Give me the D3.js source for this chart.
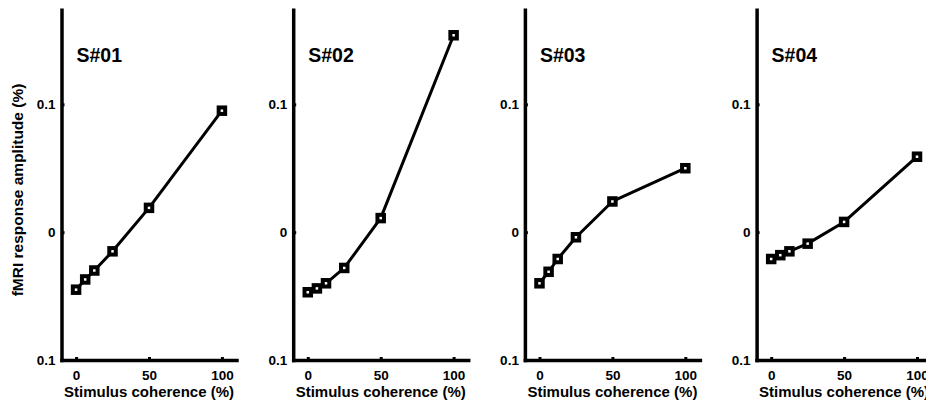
<!DOCTYPE html>
<html>
<head>
<meta charset="utf-8">
<script src="https://cdn.jsdelivr.net/npm/d3@7/dist/d3.min.js"></script>
<style>
  html, body { margin: 0; padding: 0; background: #fff; }
  svg { display: block; }
  text { font-family: "Liberation Sans", Arial, sans-serif; font-weight: bold; fill: #000; }
</style>
</head>
<body>
<svg id="chart" width="926" height="400"></svg>
<script>
const coherence = [0, 6.25, 12.5, 25, 50, 100];
const subjects = ["S#01", "S#02", "S#03", "S#04"];
const s01 = [-0.045, -0.037, -0.030, -0.015, 0.019, 0.095];
const s02 = [-0.047, -0.044, -0.040, -0.028, 0.011, 0.154];
const s03 = [-0.040, -0.031, -0.021, -0.004, 0.024, 0.050];
const s04 = [-0.021, -0.018, -0.015, -0.009, 0.008, 0.059];
const seriesValues = [s01, s02, s03, s04];
const xTicks = [0, 50, 100];
const yTicks = [-0.1, 0, 0.1];
const yTickLabels = ["0.1", "0", "0.1"];
const xLabel = "Stimulus coherence (%)";
const yLabel = "fMRI response amplitude (%)";

const svg = d3.select("#chart");
const panelW = 175, panelStep = 231.7, firstLeft = 61.5;
const yScale = d3.scaleLinear().domain([-0.1, 0.174]).range([360, 9.7]);

subjects.forEach((name, i) => {
  const left = firstLeft + i * panelStep;
  const x = d3.scaleLinear().domain([-10, 110]).range([left, left + panelW]);
  const g = svg.append("g");

  // y axis
  const yAxis = d3.axisLeft(yScale)
    .tickValues(yTicks)
    .tickSizeInner(-3).tickSizeOuter(0).tickPadding(6)
    .tickFormat((d, k) => yTickLabels[k]);
  const gy = g.append("g").attr("transform", `translate(${left},0)`).call(yAxis);
  gy.select(".domain").attr("stroke", "#000").attr("stroke-width", 3.5).attr("stroke-linecap", "square");
  gy.selectAll(".tick line").attr("stroke", "#000").attr("stroke-width", 3);
  gy.selectAll(".tick text").style("font-size", "13.5px").style("font-family", "Liberation Sans, Arial, sans-serif").style("font-weight", "bold").attr("fill", "#000");

  // x axis
  const xAxis = d3.axisBottom(x)
    .tickValues(xTicks)
    .tickSizeInner(-3).tickSizeOuter(0).tickPadding(10)
    .tickFormat(d3.format("d"));
  const gx = g.append("g").attr("transform", `translate(0,${yScale(-0.1)})`).call(xAxis);
  gx.select(".domain").attr("stroke", "#000").attr("stroke-width", 3.5).attr("stroke-linecap", "square");
  gx.selectAll(".tick line").attr("stroke", "#000").attr("stroke-width", 3);
  gx.selectAll(".tick text").style("font-size", "13.5px").style("font-family", "Liberation Sans, Arial, sans-serif").style("font-weight", "bold").attr("fill", "#000");

  // x label
  g.append("text")
    .attr("x", x(50)).attr("y", 397)
    .attr("text-anchor", "middle")
    .style("font-size", "15px")
    .text(xLabel);

  // title
  g.append("text")
    .attr("x", left + 15).attr("y", 62)
    .style("font-size", "19.5px")
    .text(name);

  const pts = coherence.map((c, k) => [c, seriesValues[i][k]]);
  const line = d3.line().x(d => x(d[0])).y(d => yScale(d[1]));
  g.append("path").datum(pts)
    .attr("d", line).attr("fill", "none")
    .attr("stroke", "#000").attr("stroke-width", 3).attr("stroke-linejoin", "round");

  const ms = 6.5;
  g.selectAll("rect.m").data(pts).enter().append("rect")
    .attr("class", "m")
    .attr("x", d => x(d[0]) - ms / 2).attr("y", d => yScale(d[1]) - ms / 2)
    .attr("width", ms).attr("height", ms)
    .attr("fill", "#fff").attr("stroke", "#000").attr("stroke-width", 4);
});

// y label on first panel
svg.append("text")
  .attr("transform", `translate(23,${190}) rotate(-90)`)
  .attr("text-anchor", "middle")
  .style("font-size", "15.5px")
  .text(yLabel);
</script>
</body>
</html>
